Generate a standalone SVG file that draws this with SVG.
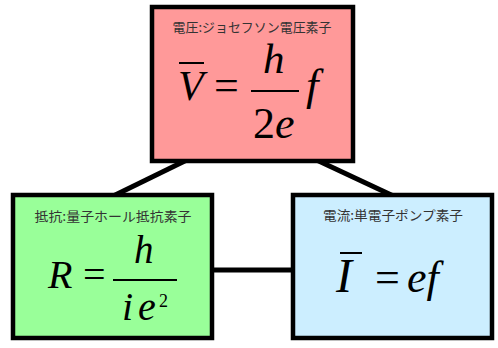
<svg xmlns="http://www.w3.org/2000/svg" width="498" height="348" viewBox="0 0 498 348">
<style>
.box{stroke:#000;stroke-width:4.5}
.lbl{font-family:"Noto Sans CJK JP","Noto Sans",sans-serif;font-size:13px;fill:#333;text-anchor:middle}
.eq{font-family:"Liberation Serif","DejaVu Serif",serif;fill:#000}
.it{font-style:italic}
.conn{stroke:#000;stroke-width:5;fill:none}
.bar{stroke:#000;stroke-width:2}
</style>
<rect width="498" height="348" fill="#fff"/>
<g id="connectors">
<line class="conn" x1="105" y1="200" x2="195" y2="156"/>
<line class="conn" x1="308" y1="156" x2="402" y2="200"/>
<line class="conn" x1="210" y1="270" x2="296" y2="270"/>
</g>
<g id="voltage">
<rect class="box" x="152" y="7" width="201" height="154" fill="#ff9999"/>
<text class="lbl" x="252" y="32" textLength="159" lengthAdjust="spacingAndGlyphs">電圧:ジョセフソン電圧素子</text>
<text class="eq it" x="178" y="100" font-size="42">V</text>
<line class="bar" x1="179" y1="63" x2="204" y2="63"/>
<text class="eq" x="214" y="100" font-size="44">=</text>
<line class="bar" x1="251" y1="91" x2="299" y2="91"/>
<text class="eq it" x="263" y="73" font-size="43">h</text>
<text class="eq" x="253" y="138" font-size="44">2<tspan class="it">e</tspan></text>
<text class="eq it" x="306" y="100" font-size="45">f</text>
</g>
<g id="resistance">
<rect class="box" x="13" y="195" width="199" height="143" fill="#99ff99"/>
<text class="lbl" x="113" y="221" textLength="157" lengthAdjust="spacingAndGlyphs">抵抗:量子ホール抵抗素子</text>
<text class="eq it" x="48" y="288" font-size="40">R</text>
<text class="eq" x="83" y="288" font-size="40">=</text>
<line class="bar" x1="113" y1="280" x2="177" y2="280"/>
<text class="eq it" x="134" y="263" font-size="39">h</text>
<text class="eq it" x="122" y="320" font-size="40">i</text>
<text class="eq it" x="138" y="320" font-size="40">e</text>
<text class="eq" x="159" y="307" font-size="18">2</text>
</g>
<g id="current">
<rect class="box" x="293" y="195" width="199" height="143" fill="#cceeff"/>
<text class="lbl" x="393" y="220" textLength="140" lengthAdjust="spacingAndGlyphs">電流:単電子ポンプ素子</text>
<text class="eq it" x="336" y="292" font-size="48">I</text>
<line class="bar" x1="340" y1="253" x2="362" y2="253"/>
<text class="eq" x="375" y="292" font-size="44">=</text>
<text class="eq it" x="407" y="292" font-size="44">ef</text>
</g>
</svg>
